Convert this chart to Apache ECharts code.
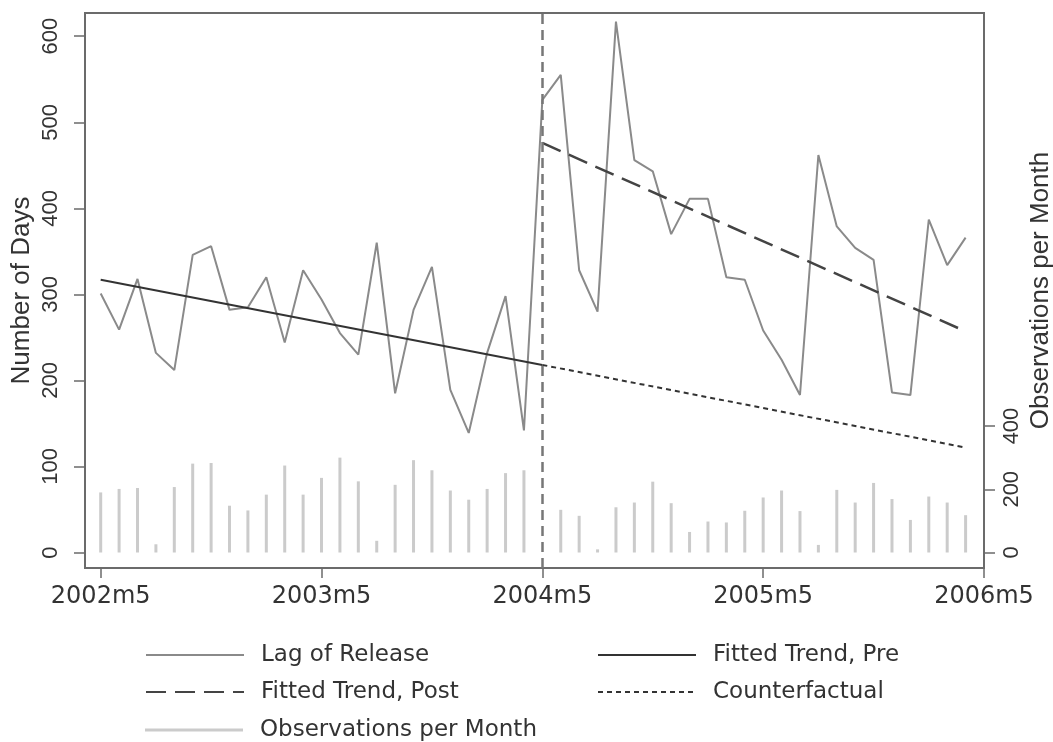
<!DOCTYPE html>
<html><head><meta charset="utf-8">
<script src="https://cdn.jsdelivr.net/npm/echarts@6/dist/echarts.min.js"></script>
<style>html,body{margin:0;padding:0;background:#fff}#c{width:1053px;height:742px}</style>
</head><body><div id="c"></div>
<script>
// ---- data ----
const tickLabels = ['2002m5','2003m5','2004m5','2005m5','2006m5'];
const tickPositions = [0, 12, 24, 36, 48];          // month index from 2002m5
const leftTicks = [0, 100, 200, 300, 400, 500, 600];
const rightTicks = [0, 200, 400];
const lagOfRelease = [301,259,318,232,212,346,356,282,285,320,244,328,
                      294,255,230,360,185,282,332,189,139,232,298,142,
                      526,555,328,280,617,456,443,370,411,411,320,317,
                      258,224,183,462,379,354,340,186,183,387,334,366];
const observationsPerMonth = [190,201,204,26,207,281,283,148,133,183,275,183,
                              236,300,225,37,214,292,260,196,167,201,251,260,
                              0,135,116,10,143,158,224,156,65,98,95,132,
                              174,196,131,24,198,158,220,169,103,177,158,118];
const trendPre = [[0,317],[24,218]];
const trendPost = [[24,476],[47,257]];
const counterfactual = [[24,218],[47,122]];
const breakMonth = 24;

// ---- chart ----
const FONT_H = 'DejaVu Sans';
const FONT_V = 'Liberation Sans';
const frame = '#6b6b6b';
const txt = '#333';
const chart = echarts.init(document.getElementById('c'), null, {renderer:'canvas'});

const legendBase = {
  orient:'horizontal', selectedMode:false, padding:0, itemGap:0,
  itemWidth:98, itemHeight:2,
  itemStyle:{opacity:0},
  textStyle:{fontFamily:FONT_H, fontSize:23, color:txt, lineHeight:26, padding:[0,0,0,12]}
};

chart.setOption({
  animation:false,
  backgroundColor:'#fff',
  grid:{left:85, right:69, top:13, bottom:174, show:true, borderColor:frame, borderWidth:2,
        containLabel:false, outerBoundsMode:'none'},
  xAxis:{
    type:'value', min:-0.853, max:48,
    splitLine:{show:false},
    axisLine:{show:true, onZero:false, lineStyle:{color:frame, width:2}},
    axisTick:{show:true, length:10, lineStyle:{color:frame, width:1.5}, customValues:tickPositions},
    axisLabel:{customValues:tickPositions, margin:17, fontFamily:FONT_H, fontSize:24, color:txt,
      formatter:v=>tickLabels[tickPositions.indexOf(v)]}
  },
  yAxis:[{
    type:'value', min:-18, max:627, position:'left',
    name:'Number of Days', nameLocation:'middle', nameGap:50, nameRotate:90, nameMoveOverlap:false,
    nameTextStyle:{fontFamily:FONT_V, fontSize:26, color:txt},
    splitLine:{show:false},
    axisLine:{show:true, onZero:false, lineStyle:{color:frame, width:2}},
    axisTick:{show:true, length:11, lineStyle:{color:frame, width:1.5}, customValues:leftTicks},
    axisLabel:{customValues:leftTicks, rotate:90, margin:23, fontFamily:FONT_V, fontSize:22, color:txt}
  },{
    type:'value', min:-49, max:1706, position:'right',
    name:'Observations per Month', nameLocation:'middle', nameGap:44, nameRotate:90, nameMoveOverlap:false,
    nameTextStyle:{fontFamily:FONT_V, fontSize:26, color:txt},
    splitLine:{show:false},
    axisLine:{show:true, onZero:false, lineStyle:{color:frame, width:2}},
    axisTick:{show:true, length:11, lineStyle:{color:frame, width:1.5}, customValues:rightTicks},
    axisLabel:{customValues:rightTicks, rotate:90, margin:17, fontFamily:FONT_V, fontSize:22, color:txt}
  }],
  legend:[
    Object.assign({}, legendBase, {data:['Lag of Release'], left:145, top:642}),
    Object.assign({}, legendBase, {data:['Fitted Trend, Pre'], left:597, top:642}),
    Object.assign({}, legendBase, {data:['Fitted Trend, Post'], left:145, top:679}),
    Object.assign({}, legendBase, {data:['Counterfactual'], left:597, top:679}),
    Object.assign({}, legendBase, {data:[{name:'Observations per Month', icon:'rect'}], left:145, top:717, itemHeight:3, itemStyle:{}})
  ],
  series:[
    {name:'Observations per Month', type:'bar', yAxisIndex:1, barWidth:3,
     itemStyle:{color:'#cbcbcb'}, data:observationsPerMonth.map((v,i)=>[i,v]), z:1},
    {name:'Lag of Release', type:'line', symbol:'none', yAxisIndex:0,
     lineStyle:{color:'#8a8a8a', width:2}, itemStyle:{color:'#8a8a8a'},
     data:lagOfRelease.map((v,i)=>[i,v]), z:3,
     markLine:{silent:true, symbol:['none','none'], label:{show:false},
       lineStyle:{color:'#777', width:2.5, type:[10,6]}, data:[{xAxis:breakMonth}]}},
    {name:'Fitted Trend, Pre', type:'line', symbol:'none', yAxisIndex:0,
     lineStyle:{color:'#333', width:2}, itemStyle:{color:'#333'}, data:trendPre, z:4},
    {name:'Fitted Trend, Post', type:'line', symbol:'none', yAxisIndex:0,
     lineStyle:{color:'#444', width:2.5, type:[20,9]}, itemStyle:{color:'#444'}, data:trendPost, z:4},
    {name:'Counterfactual', type:'line', symbol:'none', yAxisIndex:0,
     lineStyle:{color:'#333', width:2, type:[5,4]}, itemStyle:{color:'#333'}, data:counterfactual, z:4}
  ]
});
</script></body></html>
